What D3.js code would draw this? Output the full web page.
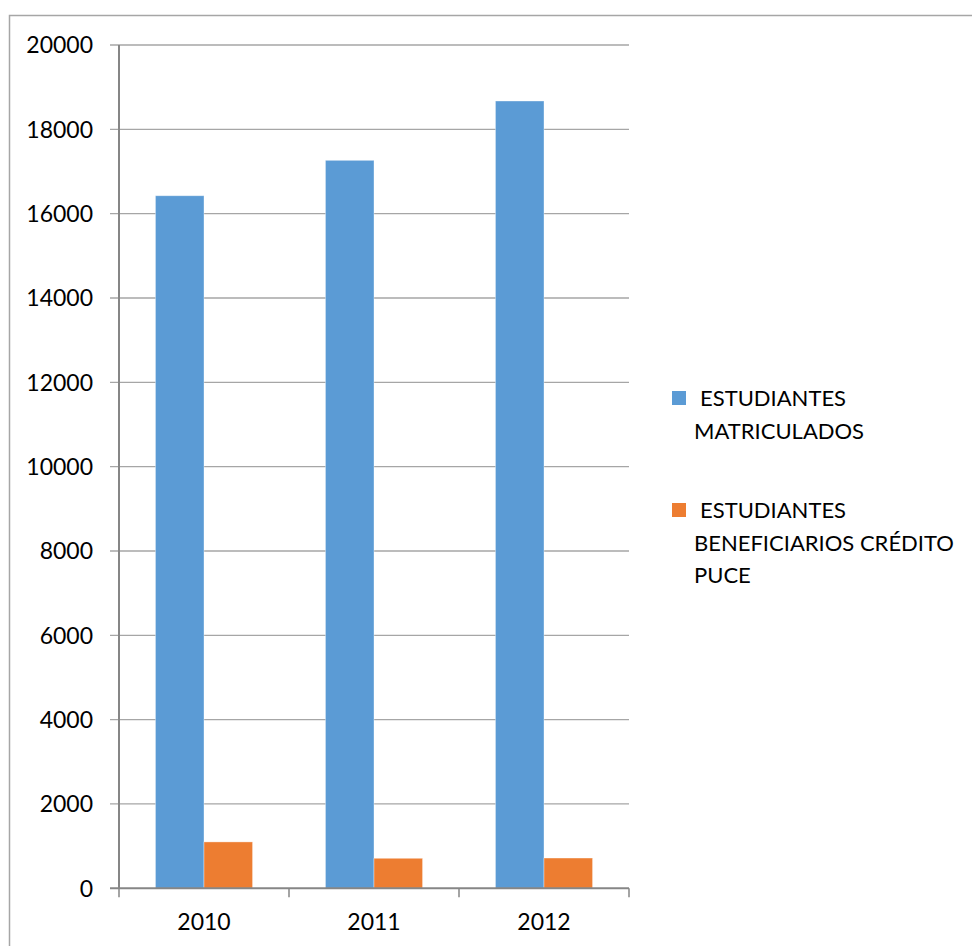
<!DOCTYPE html>
<html>
<head>
<meta charset="utf-8">
<script src="https://cdn.jsdelivr.net/npm/d3@7"></script>
<style>
  html, body { margin: 0; padding: 0; background: #fff; }
  svg text { font-family: Lato, "Open Sans", sans-serif; fill: #000; }
</style>
</head>
<body>
<svg id="chart" width="972" height="946"></svg>
<script>
const years = ["2010", "2011", "2012"];
const seriesNames = ["ESTUDIANTES MATRICULADOS", "ESTUDIANTES BENEFICIARIOS CRÉDITO PUCE"];
const matriculados = [16425, 17265, 18672];
const beneficiarios = [1100, 712, 718];
const yTicks = [0, 2000, 4000, 6000, 8000, 10000, 12000, 14000, 16000, 18000, 20000];
const legendLines = [["ESTUDIANTES", "MATRICULADOS"], ["ESTUDIANTES", "BENEFICIARIOS CRÉDITO", "PUCE"]];
const colors = ["#5B9BD5", "#ED7D31"];

const svg = d3.select("#chart");
const plotLeft = 119, plotRight = 629, plotTop = 45, plotBottom = 888.3;

// outer frame (right/bottom edges fall outside the picture)
svg.append("rect").attr("x", 9.5).attr("y", 15.5).attr("width", 1100).attr("height", 1100)
  .attr("fill", "none").attr("stroke", "#a6a6a6").attr("stroke-width", 1.5);

const y = d3.scaleLinear().domain([0, 20000]).range([plotBottom, plotTop]);
const x0 = d3.scaleBand().domain(years).range([plotLeft, plotRight]).padding(0);
const step = x0.bandwidth();
const bw = step / 3.5;
const x1 = d3.scaleBand().domain([0, 1]).range([0, 2 * bw]).padding(0);

// gridlines
svg.append("g").selectAll("line").data(yTicks.filter(d => d > 0)).join("line")
  .attr("x1", plotLeft - 9).attr("x2", plotRight)
  .attr("y1", d => y(d)).attr("y2", d => y(d))
  .attr("stroke", "#a6a6a6").attr("stroke-width", 1.3);

// y labels
svg.append("g").selectAll("text").data(yTicks).join("text")
  .attr("x", 93).attr("y", d => y(d)).attr("dy", "0.36em")
  .attr("text-anchor", "end").attr("font-size", 23)
  .text(d => d);

// bars
const data = years.map((yr, i) => ({ yr, vals: [matriculados[i], beneficiarios[i]] }));
const groups = svg.append("g").selectAll("g").data(data).join("g")
  .attr("transform", d => `translate(${x0(d.yr) + (step - 2 * bw) / 2},0)`);
groups.selectAll("rect").data(d => d.vals.map((v, k) => ({ v, k }))).join("rect")
  .attr("x", d => x1(d.k)).attr("width", bw)
  .attr("y", d => y(d.v)).attr("height", d => plotBottom - y(d.v))
  .attr("fill", d => colors[d.k])
  .attr("stroke", "#ffffff").attr("stroke-opacity", 0.45).attr("stroke-width", 0.8);

// axes
svg.append("line").attr("x1", plotLeft).attr("x2", plotLeft).attr("y1", plotTop).attr("y2", plotBottom)
  .attr("stroke", "#868686").attr("stroke-width", 2);
svg.append("line").attr("x1", plotLeft - 9).attr("x2", plotRight).attr("y1", plotBottom).attr("y2", plotBottom)
  .attr("stroke", "#868686").attr("stroke-width", 2);
const catTicks = years.map(d => x0(d)).concat([x0(years[years.length - 1]) + step]);
svg.append("g").selectAll("line").data(catTicks).join("line")
  .attr("x1", d => d).attr("x2", d => d).attr("y1", plotBottom).attr("y2", plotBottom + 9)
  .attr("stroke", "#868686").attr("stroke-width", 1.5);

// x labels
svg.append("g").selectAll("text").data(years).join("text")
  .attr("x", d => x0(d) + step / 2).attr("y", 930)
  .attr("text-anchor", "middle").attr("font-size", 23)
  .text(d => d);

// legend
const legendY = [391, 503];
const lg = svg.append("g").selectAll("g").data(seriesNames).join("g");
lg.append("rect").attr("x", 672).attr("y", (d, i) => legendY[i]).attr("width", 14).attr("height", 14)
  .attr("fill", (d, i) => colors[i]);
lg.each(function(d, i) {
  const g = d3.select(this);
  legendLines[i].forEach((ln, j) => {
    g.append("text").attr("x", j === 0 ? 700 : 694).attr("y", legendY[i] + 15 + j * 32.7)
      .attr("font-size", 22).text(ln);
  });
});
</script>
</body>
</html>
